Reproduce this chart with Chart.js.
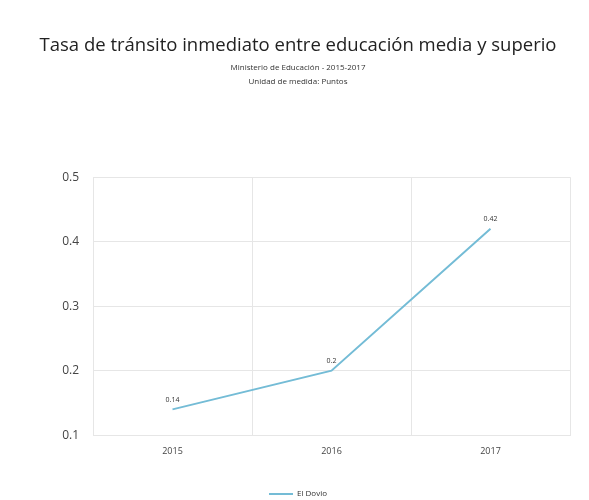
<!DOCTYPE html>
<html>
<head>
<meta charset="utf-8">
<script src="https://cdn.jsdelivr.net/npm/chart.js@4/dist/chart.umd.min.js"></script>
<style>
html,body{margin:0;padding:0;background:#fff;}
#wrap{width:589px;height:500px;position:relative;}
</style>
</head>
<body>
<div id="wrap"><canvas id="c" width="589" height="500"></canvas></div>
<script>
const categories = ['2015', '2016', '2017'];
const seriesName = 'El Dovio';
const seriesValues = [0.14, 0.2, 0.42];
const yTicks = [0.1, 0.2, 0.3, 0.4, 0.5];
const titleText = 'Tasa de tránsito inmediato entre educación media y superio';
const subtitleLines = ['Ministerio de Educación - 2015-2017', 'Unidad de medida: Puntos'];

const FONT = "'Open Sans', 'Noto Sans', sans-serif";
const lineColor = '#74bcd6';

const valueLabels = {
  id: 'valueLabels',
  afterDatasetsDraw(chart) {
    const ctx = chart.ctx;
    const meta = chart.getDatasetMeta(0);
    ctx.save();
    ctx.font = '7px ' + FONT;
    ctx.fillStyle = '#333';
    ctx.textAlign = 'center';
    ctx.textBaseline = 'bottom';
    meta.data.forEach((el, i) => {
      ctx.fillText(String(chart.data.datasets[0].data[i]), el.x, el.y - 6);
    });
    ctx.restore();
  }
};

new Chart(document.getElementById('c'), {
  type: 'line',
  data: {
    labels: categories,
    datasets: [{
      label: seriesName,
      data: seriesValues,
      borderColor: lineColor,
      backgroundColor: lineColor,
      borderWidth: 2,
      pointRadius: 0,
      pointHoverRadius: 0,
      tension: 0,
      fill: false
    }]
  },
  options: {
    responsive: false,
    animation: false,
    layout: { padding: { left: 26, right: 19, top: 35, bottom: -8 } },
    plugins: {
      title: {
        display: true,
        text: titleText,
        color: '#222',
        font: { family: FONT, size: 18.5, weight: 'normal' },
        padding: { top: 0, bottom: 4 }
      },
      subtitle: {
        display: true,
        text: subtitleLines,
        color: '#333',
        font: { family: FONT, size: 8, weight: 'normal', lineHeight: 1.75 },
        padding: { top: 0, bottom: 88 }
      },
      legend: {
        position: 'bottom',
        labels: {
          usePointStyle: true,
          pointStyle: 'line',
          pointStyleWidth: 24,
          color: '#333',
          font: { family: FONT, size: 8 },
          padding: 0
        }
      },
      tooltip: { enabled: false }
    },
    scales: {
      x: {
        offset: true,
        grid: { offset: true, color: '#e6e6e6', drawTicks: false },
        border: { color: '#e6e6e6' },
        ticks: { color: '#444', font: { family: FONT, size: 9 }, padding: 11 },
        afterFit(scale) { scale.height += 22; }
      },
      y: {
        min: 0.1,
        max: 0.5,
        afterBuildTicks(scale) { scale.ticks = yTicks.map(v => ({ value: v })); },
        afterFit(scale) { scale.width = 67; },
        grid: { color: '#e6e6e6', drawTicks: false },
        border: { color: '#e6e6e6' },
        ticks: { color: '#444', font: { family: FONT, size: 12 }, padding: 14 }
      }
    }
  },
  plugins: [valueLabels]
});
</script>
</body>
</html>
